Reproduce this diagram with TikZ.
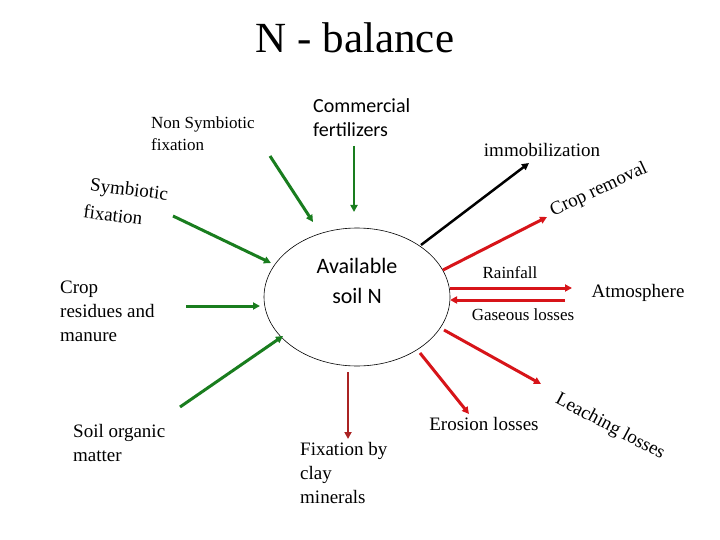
\documentclass[tikz,border=0pt]{standalone}
\usepackage{fontspec}
\setmainfont{Liberation Serif}
\newfontfamily\calfont{Carlito}
\usetikzlibrary{arrows.meta,shapes.geometric}
\definecolor{ngreen}{RGB}{25,125,30}
\definecolor{nred}{RGB}{215,20,25}
\definecolor{ndred}{RGB}{170,35,35}
\tikzset{
  lbl/.style={inner sep=0pt, align=left, font=\fontsize{19}{24}\selectfont},
  sml/.style={inner sep=0pt, align=left, font=\fontsize{17}{22}\selectfont},
  garrow/.style={draw=ngreen, line width=3pt, -{Triangle[length=7pt,width=7pt]}},
  rarrow/.style={draw=nred, line width=3pt, -{Triangle[length=7pt,width=7pt]}},
  karrow/.style={draw=black, line width=2.5pt, -{Triangle[length=7pt,width=7pt]}},
}
\begin{document}
\begin{tikzpicture}[x=1pt,y=-1pt]
\useasboundingbox (0,0) rectangle (720,540);
% title
\node[inner sep=0pt, font=\fontsize{43}{50}\selectfont] (title) at (355,38) {N - balance};
% central ellipse
\node[ellipse, draw=black, line width=0.6pt, minimum width=186pt, minimum height=138pt, inner sep=0pt] (soil) at (357,297) {};
\node[inner sep=0pt, align=center, font=\calfont\fontsize{22}{30}\selectfont] (soiltext) at (357,281) {Available\\soil N};
% labels
\node[sml, anchor=west] (nonsym) at (151,134) {Non Symbiotic\\fixation};
\node[inner sep=0pt, align=left, anchor=west, font=\calfont\fontsize{20}{24}\selectfont] (comm) at (313,118) {Commercial\\fertilizers};
\node[lbl, align=left, rotate=-7] (sym1) at (129,191) {Symbiotic};
\node[lbl, align=left, rotate=-7] (sym2) at (113,215) {fixation};
\node[lbl, anchor=west] (resid) at (60,311) {Crop\\residues and\\manure};
\node[lbl, anchor=west] (som) at (73,443) {Soil organic\\matter};
\node[lbl, anchor=west] (clay) at (300,473) {Fixation by\\clay\\minerals};
\node[lbl] (eros) at (484,424) {Erosion losses};
\node[lbl, rotate=-28] (leach) at (610,427) {Leaching losses};
\node[lbl, rotate=25] (crop) at (599,190) {Crop removal};
\node[lbl] (immo) at (542,150) {immobilization};
\node[sml] (rain) at (510,273) {Rainfall};
\node[lbl] (atmo) at (638,293) {Atmosphere};
\node[sml] (gas) at (523,315) {Gaseous losses};
% arrow coordinates
\coordinate (g1a) at (270,156); \coordinate (g1b) at (313,222);
\coordinate (g2a) at (354,146); \coordinate (g2b) at (354,212);
\coordinate (g3a) at (173,216); \coordinate (g3b) at (271,263);
\coordinate (g4a) at (186,306); \coordinate (g4b) at (260,306);
\coordinate (g5a) at (180,407); \coordinate (g5b) at (283,336);
\coordinate (k1a) at (421,245); \coordinate (k1b) at (529,163);
\coordinate (r1a) at (443,270); \coordinate (r1b) at (547,217);
\coordinate (r2a) at (450,288); \coordinate (r2b) at (572,288);
\coordinate (r3a) at (565,300); \coordinate (r3b) at (450,300);
\coordinate (r4a) at (444,330); \coordinate (r4b) at (541,384);
\coordinate (r5a) at (420,353); \coordinate (r5b) at (469,414);
\coordinate (r6a) at (348,372); \coordinate (r6b) at (348,439);
% arrows
\draw[garrow] (g1a) -- (g1b);
\draw[garrow, line width=2pt] (g2a) -- (g2b);
\draw[garrow] (g3a) -- (g3b);
\draw[garrow] (g4a) -- (g4b);
\draw[garrow] (g5a) -- (g5b);
\draw[karrow] (k1a) -- (k1b);
\draw[rarrow] (r1a) -- (r1b);
\draw[rarrow] (r2a) -- (r2b);
\draw[rarrow] (r3a) -- (r3b);
\draw[rarrow] (r4a) -- (r4b);
\draw[rarrow] (r5a) -- (r5b);
\draw[rarrow, draw=ndred, line width=2pt] (r6a) -- (r6b);
\end{tikzpicture}
\end{document}
